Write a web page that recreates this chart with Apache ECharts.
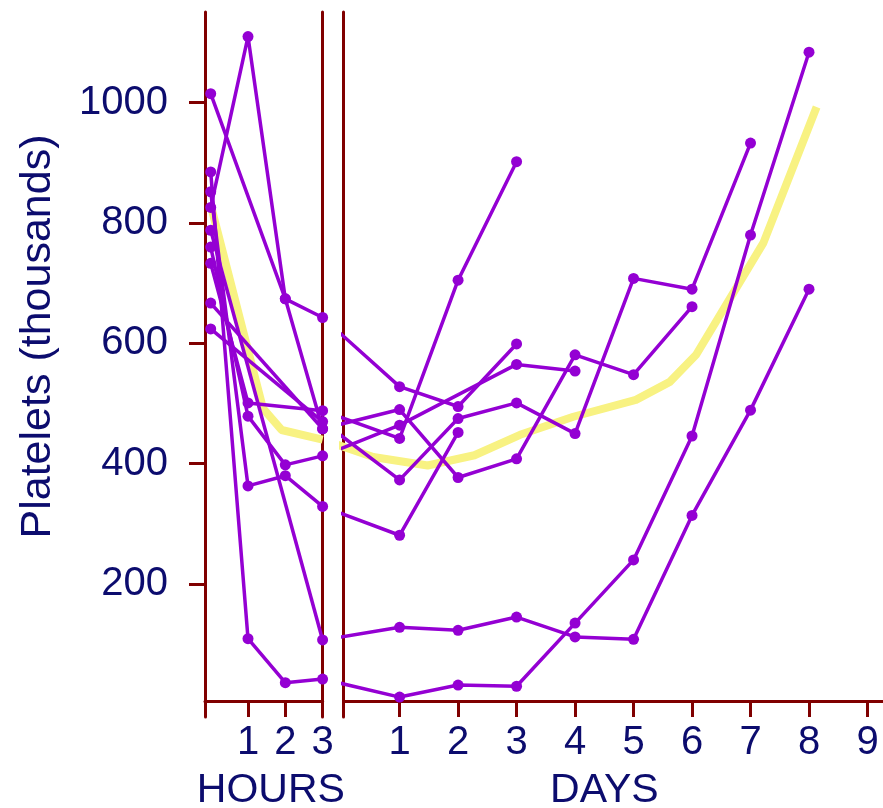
<!DOCTYPE html>
<html><head><meta charset="utf-8">
<script src="https://cdn.jsdelivr.net/npm/echarts@6/dist/echarts.min.js"></script>
<style>html,body{margin:0;padding:0;background:#fff}#c{width:883px;height:808px}</style>
</head><body><div id="c"></div>
<script>
// ---------- data ----------
const hourTimes = [0, 1, 2, 3];
const dayTimes = [1, 2, 3, 4, 5, 6, 7, 8];
const yTicks = [200, 400, 600, 800, 1000];
const hourTicks = [1, 2, 3];
const dayTicks = [1, 2, 3, 4, 5, 6, 7, 8, 9];

// platelet counts (thousands); null = not measured
const p1Hours = [1015, null, 674, 643];
const p1Days  = [528, 495, 599, null, null, null, null, null];
const p2Hours = [826, 1110, 674, 458];
const p2Days  = [490, 377, 408, 581, 548, 661, null, null];
const p3Hours = [760, 479, 398, 413];
const p3Days  = [464, null, 565, 554, null, null, null, null];
const p4Hours = [733, 501, null, 488];
const p4Days  = [442, 705, 902, null, null, null, null, null];
const p5Hours = [624, null, null, 470];
const p5Days  = [373, 475, 501, 450, 708, 690, 933, null];
const p6Hours = [852, 363, 380, 329];
const p6Days  = [281, 452, null, null, null, null, null, null];
const p7Hours = [788, null, null, 107];
const p7Days  = [128, 123, 145, 112, 108, 314, 489, 690];
const p8Hours = [885, 109, 36, 42];
const p8Days  = [12, 32, 30, 135, 240, 446, 780, 1084];
const p9Hours = [667, null, null, 458];
const p9Days  = [null, null, null, null, null, null, null, null];

// mean curve (pale yellow)
const meanHourTimes  = [0, 1.4, 1.9, 3];
const meanHourValues = [830, 492, 456, 440];
const meanDayTimes   = [0.55, 1.48, 2.28, 3.06, 3.97, 5.04, 5.62, 6.07, 7.22, 8.13];
const meanDayValues  = [411, 397, 414, 448, 478, 506, 536, 581, 767, 993];

// ---------- layout / style ----------
const AXIS = '#800000', TEXT = '#0c0c6e', PURPLE = '#9400d3', MEAN = '#f8f282';
const FONT = '"Liberation Sans", Arial, Helvetica, sans-serif';
const Y_MIN = -21.1, Y_MAX = 1150.8;
const H_MIN = -0.153, H_MAX = 3;
const D_MIN = 0.0445, D_MAX = 9.265;
const hourGrid = {left: 205, top: 12, width: 117.6, height: 705, outerBoundsMode: 'none', containLabel: false};
const dayGrid = {left: 343.7, top: 12, width: 883 - 343.7, height: 705, outerBoundsMode: 'none', containLabel: false};

// where the 3-hour measurement falls on the day scale (lines cross the gap, clipped)
const hourPx = hourGrid.width / (H_MAX - H_MIN);
const dayPx = dayGrid.width / (D_MAX - D_MIN);
const hour3Px = hourGrid.left + (3 - H_MIN) * hourPx;
const gapDay = D_MIN + (hour3Px - dayGrid.left) / dayPx;

const patients = [
  [p1Hours, p1Days], [p2Hours, p2Days], [p3Hours, p3Days], [p4Hours, p4Days],
  [p5Hours, p5Days], [p6Hours, p6Days], [p7Hours, p7Days], [p8Hours, p8Days],
  [p9Hours, p9Days]
];

function pairs(xs, ys) {
  const out = [];
  xs.forEach((x, i) => { if (ys[i] != null) out.push([x, ys[i]]); });
  return out;
}

const series = [];
series.push({
  type: 'line', xAxisIndex: 0, yAxisIndex: 0, clip: false, showSymbol: false, symbol: 'none',
  data: pairs(meanHourTimes, meanHourValues), z: 1,
  lineStyle: {color: MEAN, width: 8, cap: 'butt', join: 'round'}
});
series.push({
  type: 'line', xAxisIndex: 1, yAxisIndex: 2, clip: true, showSymbol: false, symbol: 'none',
  data: [[gapDay, meanHourValues[meanHourValues.length - 1]]].concat(pairs(meanDayTimes, meanDayValues)), z: 1,
  lineStyle: {color: MEAN, width: 8, cap: 'butt', join: 'round'}
});

patients.forEach(([hv, dv]) => {
  const common = {
    type: 'line', symbol: 'circle', symbolSize: 11, z: 3,
    lineStyle: {color: PURPLE, width: 3.5},
    itemStyle: {color: PURPLE}
  };
  series.push(Object.assign({}, common, {
    xAxisIndex: 0, yAxisIndex: 0, clip: false, data: pairs(hourTimes, hv)
  }));
  const dd = pairs(dayTimes, dv);
  if (dd.length && hv[3] != null) {
    const data = [{value: [gapDay, hv[3]], symbol: 'none'}].concat(dd);
    series.push(Object.assign({}, common, {
      xAxisIndex: 1, yAxisIndex: 2, clip: true, data: data
    }));
  }
});

const labelStyle = {color: TEXT, fontSize: 40, fontFamily: FONT, formatter: v => String(v)};
const axisLine = {show: true, lineStyle: {color: AXIS, width: 3}};

const option = {
  animation: false,
  backgroundColor: '#ffffff',
  grid: [hourGrid, dayGrid],
  xAxis: [
    {
      type: 'value', gridIndex: 0, min: H_MIN, max: H_MAX, position: 'bottom', offset: -16,
      axisLine: Object.assign({onZero: false}, axisLine),
      axisTick: {show: true, customValues: hourTicks, length: 16, lineStyle: {color: AXIS, width: 3}},
      axisLabel: Object.assign({customValues: hourTicks, margin: 22}, labelStyle),
      splitLine: {show: false},
      name: 'HOURS', nameLocation: 'middle', nameGap: 69,
      nameTextStyle: {color: TEXT, fontSize: 41, fontFamily: FONT, padding: [0, 0, 0, 14]}
    },
    {
      type: 'value', gridIndex: 1, min: D_MIN, max: D_MAX, position: 'bottom', offset: -16,
      axisLine: Object.assign({onZero: false}, axisLine),
      axisTick: {show: true, customValues: dayTicks, length: 16, lineStyle: {color: AXIS, width: 3}},
      axisLabel: Object.assign({customValues: dayTicks, margin: 22}, labelStyle),
      splitLine: {show: false},
      name: 'DAYS', nameLocation: 'middle', nameGap: 69,
      nameTextStyle: {color: TEXT, fontSize: 41, fontFamily: FONT, padding: [0, 18, 0, 0]}
    }
  ],
  yAxis: [
    {
      type: 'value', gridIndex: 0, min: Y_MIN, max: Y_MAX, position: 'left',
      axisLine: Object.assign({onZero: false}, axisLine),
      axisTick: {show: true, customValues: yTicks, length: 16, lineStyle: {color: AXIS, width: 3}},
      axisLabel: Object.assign({customValues: yTicks, margin: 37}, labelStyle),
      splitLine: {show: false},
      name: 'Platelets (thousands)', nameLocation: 'middle', nameGap: 145,
      nameTextStyle: {color: TEXT, fontSize: 43, fontFamily: FONT, padding: [0, 0, 0, 56]}
    },
    {
      type: 'value', gridIndex: 0, min: Y_MIN, max: Y_MAX, position: 'right',
      axisLine: Object.assign({onZero: false}, axisLine),
      axisTick: {show: false}, axisLabel: {show: false}, splitLine: {show: false}
    },
    {
      type: 'value', gridIndex: 1, min: Y_MIN, max: Y_MAX, position: 'left',
      axisLine: Object.assign({onZero: false}, axisLine),
      axisTick: {show: false}, axisLabel: {show: false}, splitLine: {show: false}
    }
  ],
  series: series
};

const chart = echarts.init(document.getElementById('c'), null, {renderer: 'canvas'});
chart.setOption(option);
</script>
</body></html>
